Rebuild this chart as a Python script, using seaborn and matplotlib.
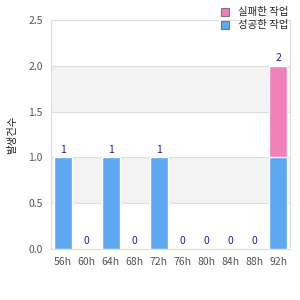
import matplotlib
matplotlib.use("Agg")
import matplotlib.pyplot as plt
import seaborn as sns
import pandas as pd
from matplotlib.patches import Patch

categories = ["56h", "60h", "64h", "68h", "72h", "76h", "80h", "84h", "88h", "92h"]
blue_values = [1, 0, 1, 0, 1, 0, 0, 0, 0, 1]
pink_values = [0, 0, 0, 0, 0, 0, 0, 0, 0, 1]
blue_name = "성공한 작업"
pink_name = "실패한 작업"
y_label = "발생건수"
y_ticks = [0.0, 0.5, 1.0, 1.5, 2.0, 2.5]

sns.set_theme(style="white")
plt.rcParams["font.family"] = ["Noto Sans CJK KR", "DejaVu Sans"]

BLUE = "#5EA8F2"
PINK = "#F080B8"
LABEL = "#1F1F99"

df = pd.DataFrame({"cat": categories, "blue": blue_values, "pink": pink_values})
df["total"] = df["blue"] + df["pink"]

fig = plt.figure(figsize=(3, 3), dpi=100)
ax = fig.add_axes([0.17, 0.17, 0.797, 0.763])

for lo, hi in [(0.5, 1.0), (1.5, 2.0)]:
    ax.axhspan(lo, hi, color="#F3F3F3", zorder=0, lw=0)
for t in y_ticks:
    ax.axhline(t, color="#DDDDDD", lw=0.8, zorder=0.5)

sns.barplot(data=df, x="cat", y="total", color=PINK, saturation=1, width=0.75, ax=ax, zorder=2)
sns.barplot(data=df, x="cat", y="blue", color=BLUE, saturation=1, width=0.75, ax=ax, zorder=3)

for i, v in enumerate(df["total"]):
    ax.annotate(str(v), (i, v), xytext=(0, 2), textcoords="offset points",
                ha="center", va="bottom", fontsize=7.5, color=LABEL, zorder=4)

ax.set_xlim(-0.5, len(categories) - 0.5)
ax.set_ylim(0, 2.5)
ax.set_yticks(y_ticks)
ax.set_yticklabels([f"{t:.1f}" for t in y_ticks])
ax.set_xlabel("")
ax.set_ylabel(y_label, fontsize=7.5, color="#222222", labelpad=8)
ax.tick_params(axis="both", labelsize=7.5, colors="#555555", length=0, pad=6)
for s in ["left", "right", "bottom"]:
    ax.spines[s].set_color("#DDDDDD")
    ax.spines[s].set_linewidth(0.8)
ax.spines["top"].set_visible(False)

handles = [Patch(facecolor=PINK, edgecolor="#777777", lw=0.8, label=pink_name),
           Patch(facecolor=BLUE, edgecolor="#777777", lw=0.8, label=blue_name)]
fig.legend(handles=handles, loc="upper right", bbox_to_anchor=(0.985, 1.0), frameon=False,
           fontsize=7.5, handlelength=0.8, handleheight=0.8, handletextpad=0.8,
           labelspacing=0.3, borderpad=0.2)

fig.savefig("out.png", dpi=100)
